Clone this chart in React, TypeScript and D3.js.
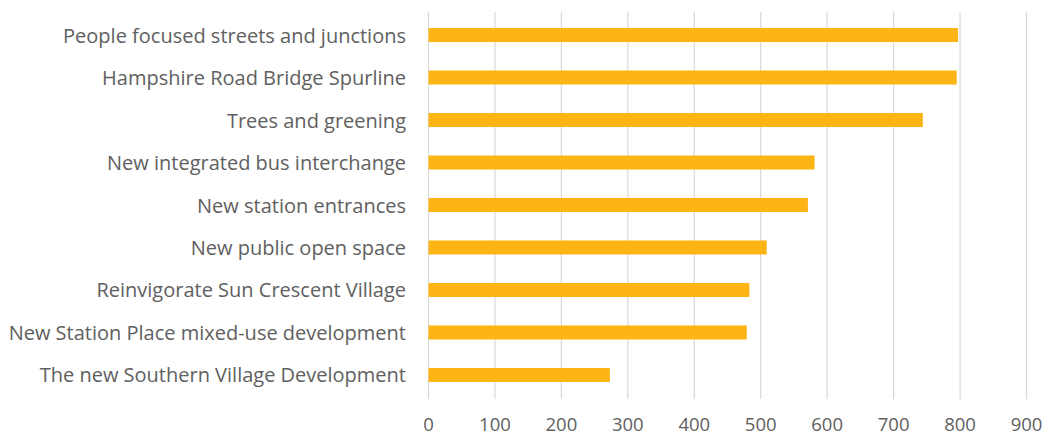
import React from "react";
import * as d3 from "d3";

const categories = [
  "People focused streets and junctions",
  "Hampshire Road Bridge Spurline",
  "Trees and greening",
  "New integrated bus interchange",
  "New station entrances",
  "New public open space",
  "Reinvigorate Sun Crescent Village",
  "New Station Place mixed-use development",
  "The new Southern Village Development",
];
const values = [797, 795, 744, 581, 571, 509, 483, 479, 273];
const xTicks = [0, 100, 200, 300, 400, 500, 600, 700, 800, 900];

const W = 1043;
const H = 437;
const FONT = "'Open Sans', sans-serif";

export default function App() {
  const x = d3.scaleLinear().domain([0, 900]).range([428.5, 1026.5]);
  const y = d3
    .scaleBand<string>()
    .domain(categories)
    .range([14, 396])
    .paddingInner(0.67)
    .paddingOuter(0.33);
  const gridTop = 12;
  const gridBottom = 399;
  return (
    <svg
      width={W}
      height={H}
      style={{ position: "absolute", left: 0, top: 0, background: "#fff" }}
    >
      <g>
        {xTicks.map((t) => (
          <line
            key={t}
            x1={x(t)}
            x2={x(t)}
            y1={gridTop}
            y2={gridBottom}
            stroke="#d9d9d9"
            strokeWidth={1.2}
          />
        ))}
      </g>
      <g>
        {categories.map((c, i) => (
          <rect
            key={c}
            x={x(0)}
            y={y(c)}
            width={x(values[i]) - x(0)}
            height={y.bandwidth()}
            fill="#FDB515"
          />
        ))}
      </g>
      <g fontFamily={FONT} fontSize={20} fill="#606060">
        {categories.map((c) => (
          <text
            key={c}
            x={406}
            y={(y(c) as number) + y.bandwidth() / 2}
            textAnchor="end"
            dominantBaseline="central"
          >
            {c}
          </text>
        ))}
      </g>
      <g fontFamily={FONT} fontSize={18.5} fill="#606060">
        {xTicks.map((t) => (
          <text key={t} x={x(t)} y={423} textAnchor="middle" dominantBaseline="central">
            {t}
          </text>
        ))}
      </g>
    </svg>
  );
}
